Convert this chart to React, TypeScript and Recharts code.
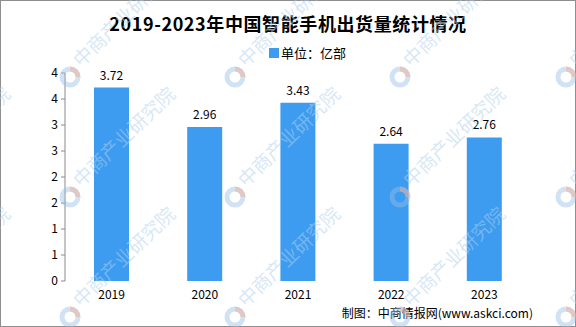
import { BarChart, Bar, XAxis, YAxis, LabelList } from 'recharts';

document.body.style.margin = '0';

const years = ['2019', '2020', '2021', '2022', '2023'];
const shipments = [3.72, 2.96, 3.43, 2.64, 2.76];
const yTicks = [0, 0.5, 1, 1.5, 2, 2.5, 3, 3.5, 4];
const edgeTicks = [0, 1, 2, 3, 4, 5];

const data = years.map((year, i) => ({ year, shipments: shipments[i] }));

const FONT = '"Noto Sans CJK SC", "Noto Sans", sans-serif';
const BAR_COLOR = '#3d9cf0';
const AXIS_COLOR = '#8a8a8a';

// watermark grid (decoration only)
const wmCols = [-95, 70, 235, 400, 566];
const wmRows = [77, 197, 317];

function Watermarks() {
  return (
    <svg width={576} height={327} style={{ position: 'absolute', left: -1, top: -1, pointerEvents: 'none' }}>
      {wmRows.map((y) =>
        wmCols.map((x) => (
          <g key={`${x}-${y}`}>
            <circle cx={x} cy={y} r={8} fill="none" stroke="rgba(150,190,230,0.45)" strokeWidth={5} />
            <path d={`M ${x} ${y - 8} A 8 8 0 0 1 ${x + 8} ${y}`} fill="none" stroke="rgba(245,170,140,0.45)" strokeWidth={5} />
            <text
              x={x + 11}
              y={y - 9}
              transform={`rotate(-44 ${x + 11} ${y - 9})`}
              fontSize={19}
              fontFamily={FONT}
              fill="rgba(175,208,238,0.5)"
            >
              中商产业研究院
            </text>
          </g>
        ))
      )}
    </svg>
  );
}

export default function App() {
  return (
    <div
      style={{
        position: 'relative',
        width: 576,
        height: 327,
        boxSizing: 'border-box',
        border: '1px solid #8e8e8e',
        background: '#fff',
        fontFamily: FONT,
      }}
    >
      <div style={{ position: 'absolute', left: -1, top: -1 }}>
        <BarChart width={576} height={327} data={data} margin={{ top: 73, right: 45, left: 0, bottom: 16 }}>
          <XAxis
            xAxisId="edge"
            type="number"
            domain={[0, 5]}
            ticks={edgeTicks}
            allowDataOverflow
            tickFormatter={() => ''}
            tickSize={5}
            height={0}
            stroke={AXIS_COLOR}
          />
          <XAxis
            xAxisId="cat"
            dataKey="year"
            axisLine={false}
            tickLine={false}
            tickSize={5}
            tickMargin={4}
            height={30}
            interval={0}
            tick={{ fill: '#000', fontSize: 12, fontFamily: FONT }}
          />
          <YAxis
            domain={[0, 4]}
            ticks={yTicks}
            interval={0}
            width={65}
            tickSize={4}
            tickMargin={3}
            stroke={AXIS_COLOR}
            tickFormatter={(v: number) => String(Math.round(v))}
            tick={{ fill: '#000', fontSize: 12, fontFamily: FONT }}
          />
          <Bar xAxisId="cat" dataKey="shipments" fill={BAR_COLOR} barSize={35} isAnimationActive={false}>
            <LabelList
              dataKey="shipments"
              position="top"
              offset={8}
              fill="#000"
              fontSize={12}
              fontFamily={FONT}
              formatter={(v: number) => v.toFixed(2)}
            />
          </Bar>
        </BarChart>
      </div>

      <div
        style={{
          position: 'absolute',
          left: -1,
          top: 9,
          width: 576,
          textAlign: 'center',
          fontSize: 18,
          fontWeight: 'bold',
          letterSpacing: 0.6,
          color: '#000',
        }}
      >
        2019-2023年中国智能手机出货量统计情况
      </div>

      <div style={{ position: 'absolute', left: 268, top: 42, display: 'flex', alignItems: 'center', fontSize: 13, color: '#000' }}>
        <span style={{ display: 'inline-block', width: 10, height: 10, background: BAR_COLOR, marginRight: 2 }} />
        <span>单位：亿部</span>
      </div>

      <div style={{ position: 'absolute', right: 42, top: 303, fontSize: 12, color: '#000', whiteSpace: 'nowrap' }}>
        制图：中商情报网(www.askci.com)
      </div>

      <Watermarks />
    </div>
  );
}
